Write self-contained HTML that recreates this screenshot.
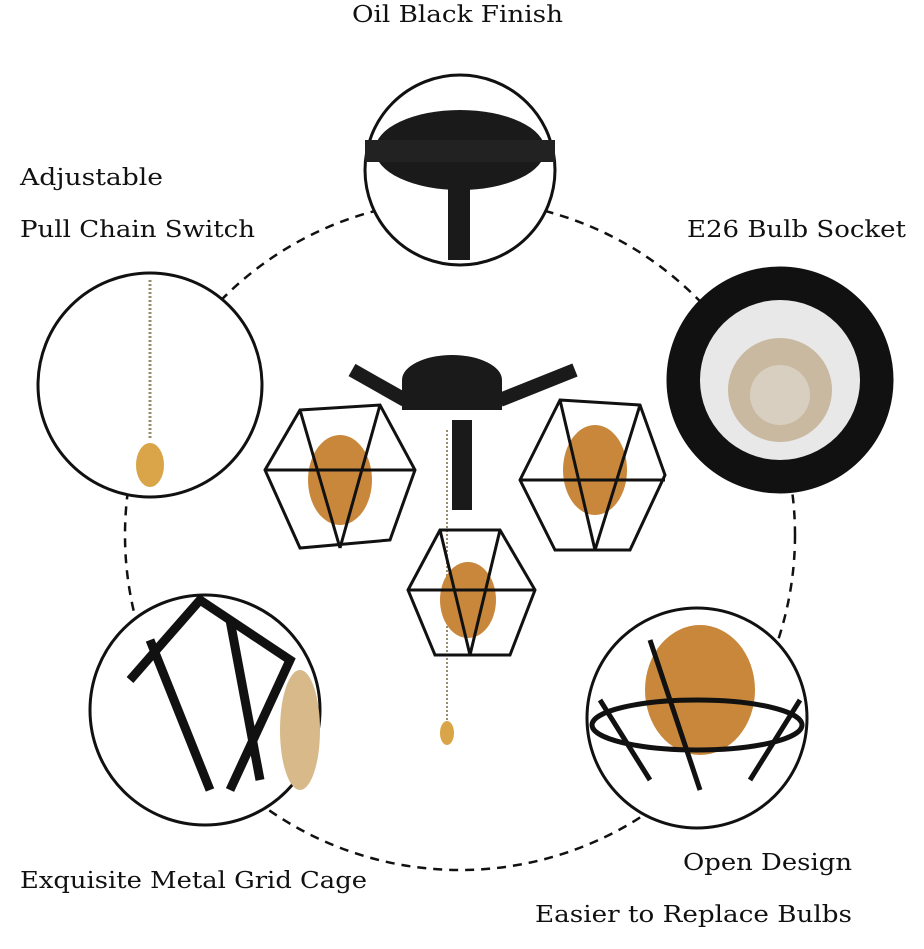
<!DOCTYPE html>
<html><head><meta charset="utf-8"><style>
html,body{margin:0;padding:0;background:#fff;width:924px;height:949px;overflow:hidden}
svg{display:block}
text{font-family:"DejaVu Serif","Liberation Serif",serif;font-size:23px;fill:#111}
</style></head><body>
<svg width="924" height="949" viewBox="0 0 924 949">
<circle cx="460" cy="535" r="335" fill="none" stroke="#111" stroke-width="2.5" stroke-dasharray="9 7"/>
<!-- top circle -->
<circle cx="460" cy="170" r="95" fill="#fff" stroke="#111" stroke-width="3"/>
<ellipse cx="460" cy="150" rx="85" ry="40" fill="#1a1a1a"/>
<rect x="365" y="140" width="190" height="22" fill="#222"/>
<rect x="448" y="180" width="22" height="80" fill="#1a1a1a"/>
<!-- left circle -->
<circle cx="150" cy="385" r="112" fill="#fff" stroke="#111" stroke-width="3"/>
<line x1="150" y1="280" x2="150" y2="440" stroke="#9a8a70" stroke-width="3" stroke-dasharray="2 2"/>
<ellipse cx="150" cy="465" rx="14" ry="22" fill="#d9a548"/>
<!-- right circle -->
<circle cx="780" cy="380" r="112" fill="#111" stroke="#111" stroke-width="3"/>
<circle cx="780" cy="380" r="80" fill="#e8e8e8"/>
<circle cx="780" cy="390" r="52" fill="#c9b9a0"/>
<circle cx="780" cy="395" r="30" fill="#d8cfc0"/>
<!-- bottom-left circle -->
<circle cx="205" cy="710" r="115" fill="#fff" stroke="#111" stroke-width="3"/>
<g stroke="#111" stroke-width="9" fill="none">
<path d="M130 680 L200 600 L290 660 L230 790"/><path d="M150 640 L210 790"/><path d="M230 620 L260 780"/>
</g>
<ellipse cx="300" cy="730" rx="20" ry="60" fill="#d7b98a"/>
<!-- bottom-right circle -->
<circle cx="697" cy="718" r="110" fill="#fff" stroke="#111" stroke-width="3"/>
<ellipse cx="700" cy="690" rx="55" ry="65" fill="#c8873a"/>
<g stroke="#111" stroke-width="5" fill="none">
<ellipse cx="697" cy="725" rx="105" ry="25"/><path d="M600 700 L650 780 M800 700 L750 780 M650 640 L700 790"/>
</g>
<!-- center lamp -->
<ellipse cx="452" cy="380" rx="50" ry="25" fill="#1a1a1a"/>
<rect x="402" y="380" width="100" height="30" fill="#1a1a1a"/>
<path d="M352 370 L405 400 M500 400 L575 370" stroke="#1a1a1a" stroke-width="14"/>
<rect x="452" y="420" width="20" height="90" fill="#1a1a1a"/>
<line x1="447" y1="430" x2="447" y2="720" stroke="#9a8a70" stroke-width="2" stroke-dasharray="2 2"/>
<ellipse cx="447" cy="733" rx="7" ry="12" fill="#d9a548"/>
<g fill="#c8873a"><ellipse cx="340" cy="480" rx="32" ry="45"/><ellipse cx="595" cy="470" rx="32" ry="45"/><ellipse cx="468" cy="600" rx="28" ry="38"/></g>
<g stroke="#111" stroke-width="3" fill="none">
<path d="M300 410 L380 405 L415 470 L390 540 L300 548 L265 470 Z M300 410 L340 548 M380 405 L340 548 M265 470 L415 470"/>
<path d="M560 400 L640 405 L665 475 L630 550 L555 550 L520 480 Z M560 400 L595 550 M640 405 L595 550 M520 480 L665 480"/>
<path d="M440 530 L500 530 L535 590 L510 655 L435 655 L408 590 Z M440 530 L470 655 M500 530 L470 655 M408 590 L535 590"/>
</g>
<!-- labels -->
<text x="352" y="22" textLength="211" lengthAdjust="spacingAndGlyphs">Oil Black Finish</text>
<text x="20" y="185" textLength="143" lengthAdjust="spacingAndGlyphs">Adjustable</text>
<text x="20" y="237" textLength="235" lengthAdjust="spacingAndGlyphs">Pull Chain Switch</text>
<text x="687" y="237" textLength="219" lengthAdjust="spacingAndGlyphs">E26 Bulb Socket</text>
<text x="20" y="888" textLength="347" lengthAdjust="spacingAndGlyphs">Exquisite Metal Grid Cage</text>
<text x="683" y="870" textLength="169" lengthAdjust="spacingAndGlyphs">Open Design</text>
<text x="535" y="922" textLength="317" lengthAdjust="spacingAndGlyphs">Easier to Replace Bulbs</text>
</svg>
</body></html>
